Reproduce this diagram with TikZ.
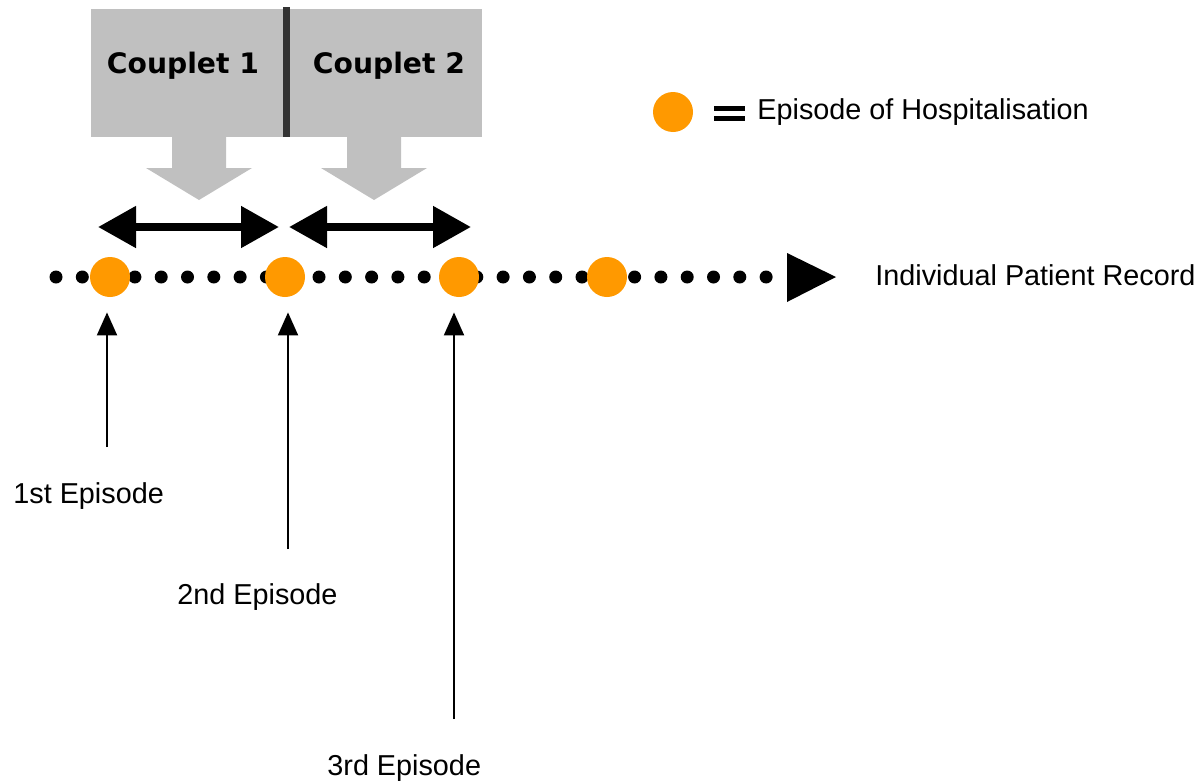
\documentclass[tikz,border=0pt]{standalone}
\usepackage{fontspec}
\setmainfont{Liberation Sans}
\newfontfamily\coupletfont{DejaVu Sans}
\usepackage{tikz}
\usetikzlibrary{arrows.meta,positioning,calc}
\definecolor{EpisodeColor}{HTML}{FF9900}
\definecolor{BoxGrey}{HTML}{C0C0C0}
\definecolor{DividerGrey}{HTML}{333333}

\begin{document}
\begin{tikzpicture}[x=0.5bp,y=-0.5bp,
  episode/.style={circle,fill=EpisodeColor,minimum size=20bp,inner sep=0pt},
  eplabel/.style={anchor=base west,inner sep=0pt,font=\fontsize{14.45}{17}\selectfont},
  couplet/.style={anchor=base,inner sep=0pt,font=\coupletfont\bfseries\fontsize{14.15}{17}\selectfont},
  span/.style={line width=4bp,{Triangle[length=19bp,width=20bp]}-{Triangle[length=19bp,width=20bp]}},
  uparrow/.style={line width=1bp,-{Triangle[length=11.5bp,width=10bp]},shorten >=7.5bp}]
  \useasboundingbox (0,0) rectangle (1203,780);
  % couplet boxes and block arrows
  \fill[BoxGrey] (91,9) rectangle (482,137);
  \draw[DividerGrey,line width=3.5bp] (286,7) -- (286,137);
  \foreach \cx in {199,374}
    \fill[BoxGrey] (\cx-27,137) -- (\cx+27,137) -- (\cx+27,168) -- (\cx+53,168)
      -- (\cx,200) -- (\cx-53,168) -- (\cx-27,168) -- cycle;
  \node[couplet] (c1) at (183,73) {Couplet 1};
  \node[couplet] (c2) at (389,73) {Couplet 2};
  % patient record line
  \foreach \k in {0,...,27}
    \fill ({56+\k*26.3},277) circle[radius=3.25bp];
  \fill (787,253) -- (836,277) -- (787,302) -- cycle;
  \node[episode] (ep1) at (110,277) {};
  \node[episode] (ep2) at (285,277) {};
  \node[episode] (ep3) at (459,277) {};
  \node[episode] (ep4) at (607,277) {};
  \node[eplabel] (record) at (875,285) {Individual Patient Record};
  \draw[span] ($(ep1)+(-12,-50)$) -- ($(ep2)+(-6,-50)$);
  \draw[span] ($(ep2)+(4,-50)$) -- ($(ep3)+(12,-50)$);
  % legend
  \node[episode] (legend) at (673,112) {};
  \draw[line width=2.5bp] (714,108) -- (745,108) (714,118.5) -- (745,118.5);
  \node[eplabel] (legtext) at (757,119) {Episode of Hospitalisation};
  % episode labels
  \node[eplabel] (lab1) at (13,503) {1st Episode};
  \node[eplabel] (lab2) at (177,604) {2nd Episode};
  \node[eplabel] (lab3) at (327,775) {3rd Episode};
  \coordinate (tail1) at (107,447);
  \coordinate (tail2) at (288,549);
  \coordinate (tail3) at (454,719);
  \draw[uparrow] (tail1) -- (tail1 |- ep1.south);
  \draw[uparrow] (tail2) -- (tail2 |- ep2.south);
  \draw[uparrow] (tail3) -- (tail3 |- ep3.south);
\end{tikzpicture}
\end{document}
